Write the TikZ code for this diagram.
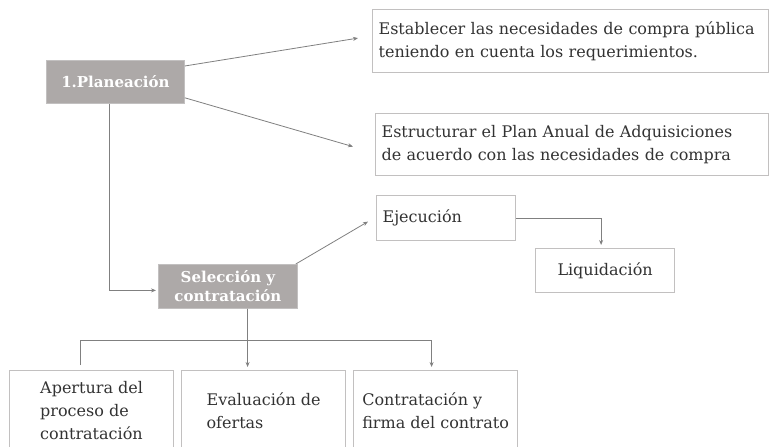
\documentclass[tikz,border=0pt]{standalone}
\usepackage{fontspec}
\setmainfont{DejaVu Serif}
\usetikzlibrary{positioning, arrows.meta}

\definecolor{phasegray}{HTML}{ADA9A8}
\definecolor{edgegray}{HTML}{C2C0C0}
\definecolor{linkgray}{HTML}{808080}
\definecolor{textgray}{HTML}{333333}

\tikzset{
    phase/.style={fill=phasegray, draw=edgegray, line width=0.8pt, text=white,
        font=\fontsize{15}{19}\selectfont\bfseries, align=center,
        anchor=north west, inner sep=0pt, minimum width=139pt, minimum height=44pt},
    task/.style={draw=edgegray, line width=1.2pt, fill=white, text=textgray,
        font=\fontsize{16}{23}\selectfont, align=left, anchor=north west,
        inner ysep=0pt},
    subtask/.style={task, inner xsep=2pt, minimum width=164pt, minimum height=80pt},
    link/.style={draw=linkgray, line width=0.8pt, -{Stealth[length=5pt,width=4pt]}}
}

\begin{document}
\begin{tikzpicture}[x=1pt, y=-1pt]
        \clip (0,0) rectangle (769,447);
        \fill[white] (0,0) rectangle (769,447);
        % fases
        \node[phase, minimum width=138pt, minimum height=43pt] (plan) at (46,60) {1.Planeación};
        \node[phase] (sel) at (158,264) {Selección y\\contratación};
        % tareas de planeacion
        \node[task, inner xsep=6pt, text width=384pt, minimum height=63pt] (nec) at (372,9)
            {Establecer las necesidades de compra pública\\teniendo en cuenta los requerimientos.};
        \node[task, inner xsep=6pt, text width=381pt, minimum height=62pt] (paa) at (375,113)
            {Estructurar el Plan Anual de Adquisiciones\\de acuerdo con las necesidades de compra};
        % ejecucion y liquidacion
        \node[task, inner xsep=6pt, text width=127pt, minimum height=45pt] (eje) at (376,195) {Ejecución};
        \node[task, align=center, inner xsep=0pt, text width=139pt, minimum height=44pt] (liq) at (535,248) {Liquidación};
        % subprocesos de seleccion
        \node[subtask] (ape) at (9,370) {Apertura del\\proceso de\\contratación};
        \node[subtask] (eva) at (181,370) {Evaluación de\\ofertas};
        \node[subtask] (con) at (353,370) {Contratación y\\firma del contrato};
        % conectores
        \draw[link] ([yshift=-6pt]plan.north east) -- ([xshift=-14pt,yshift=3pt]nec.west);
        \draw[link] ([yshift=6pt]plan.south east) -- ([xshift=-22pt,yshift=-2pt]paa.west);
        \draw[link, shorten >=2pt] ([xshift=-6pt]plan.south) |- ([yshift=-4pt]sel.west);
        \draw[link] ([xshift=-2pt]sel.north east) -- ([xshift=-8pt,yshift=-3.5pt]eje.west);
        \draw[link, shorten >=3pt] (eje.east) -| ([xshift=-4pt]liq.north);
        \draw[link, shorten >=3pt] ([xshift=19.5pt]sel.south) -- ([xshift=-16pt]eva.north);
        \draw[link, shorten >=3pt] ([xshift=-11pt,yshift=5pt]ape.north)
            -- ([xshift=-11pt,yshift=30pt]ape.north) -| ([xshift=-4pt]con.north);
    \end{tikzpicture}
\end{document}
